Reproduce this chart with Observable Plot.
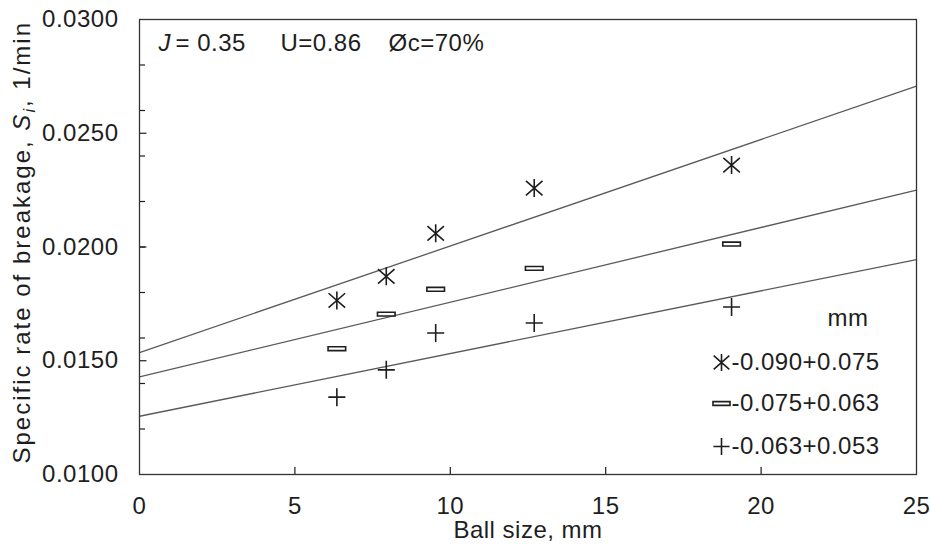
<!DOCTYPE html>
<html>
<head>
<meta charset="utf-8">
<script src="https://cdn.jsdelivr.net/npm/d3@7"></script>
<script src="https://cdn.jsdelivr.net/npm/@observablehq/plot@0.6"></script>
<style>
  html, body { margin: 0; padding: 0; background: #fff; }
  #chart { width: 931px; height: 551px; }
  #chart text { letter-spacing: 0.5px; }
</style>
</head>
<body>
<div id="chart"></div>
<script>
// ---- data ----
const ballSizes = [6.35, 7.94, 9.53, 12.7, 19.05];
const s090 = [0.01765, 0.01871, 0.0206, 0.02259, 0.0236];
const s075 = [0.01553, 0.01705, 0.01814, 0.01906, 0.02013];
const s063 = [0.0134, 0.0146, 0.01622, 0.01666, 0.01736];

const fitX = [0, 25];
const fit090 = [0.01536, 0.02707];
const fit075 = [0.01429, 0.0225];
const fit063 = [0.01256, 0.01945];

const seriesNames = ["-0.090+0.075", "-0.075+0.063", "-0.063+0.053"];
const xTickValues = [0, 5, 10, 15, 20, 25];
const xInnerTicks = [5, 10, 15, 20];
const yLabelValues = [0.010, 0.015, 0.020, 0.025, 0.030];
const yMinorTicks = [0.012, 0.014, 0.016, 0.018, 0.020, 0.022, 0.024, 0.026, 0.028];
const yMajorTicks = [0.015, 0.020, 0.025];

// ---- symbols ----
const asteriskSym = { draw(ctx, size) {
  const r = Math.sqrt(size / Math.PI);
  ctx.moveTo(0, -r); ctx.lineTo(0, r);
  const a = r * 0.92, b = r * 0.8;
  ctx.moveTo(-a, -b); ctx.lineTo(a, b);
  ctx.moveTo(-a, b); ctx.lineTo(a, -b);
}};
const dashSym = { draw(ctx, size) {
  const r = Math.sqrt(size / Math.PI);
  const h = 1.9;
  ctx.moveTo(-r, -h); ctx.lineTo(r, -h); ctx.lineTo(r, h); ctx.lineTo(-r, h); ctx.closePath();
}};
const plusSym = { draw(ctx, size) {
  const r = Math.sqrt(size / Math.PI);
  ctx.moveTo(-r * 0.95, 0); ctx.lineTo(r * 0.95, 0);
  ctx.moveTo(0, -r); ctx.lineTo(0, r);
}};

const pts = (ys) => ballSizes.map((x, i) => ({x, y: ys[i]}));
const fit = (ys) => fitX.map((x, i) => ({x, y: ys[i]}));

const ink = "#1e1e1e";
const lineCol = "#5a5a5a";
const FS = 24;
const W = 931, H = 551, mL = 139, mR = 15, mT = 19, mB = 77;
const fw = W - mL - mR, fh = H - mT - mB;

const symbols = [asteriskSym, dashSym, plusSym];
const symFill = ["none", "white", "none"];
const legendDy = [343, 384, 427];

const legendMarks = seriesNames.flatMap((name, i) => [
  Plot.dot([name], {frameAnchor: "top-left", dx: 582, dy: legendDy[i], symbol: symbols[i], r: 8.5,
    stroke: ink, strokeWidth: 1.6, fill: symFill[i]}),
  Plot.text([name], {frameAnchor: "top-left", dx: 592, dy: legendDy[i], text: d => d,
    textAnchor: "start", lineAnchor: "middle", fill: ink, fontSize: FS})
]);

const plot = Plot.plot({
  width: W, height: H,
  marginLeft: mL, marginRight: mR, marginTop: mT, marginBottom: mB,
  x: {domain: [0, 25]},
  y: {domain: [0.01, 0.03]},
  style: {fontFamily: "'Liberation Sans', Arial, sans-serif", fontSize: FS + "px", color: ink, background: "white", overflow: "visible"},
  marks: [
    Plot.line(fit(fit090), {x: "x", y: "y", stroke: lineCol, strokeWidth: 1.3}),
    Plot.line(fit(fit075), {x: "x", y: "y", stroke: lineCol, strokeWidth: 1.3}),
    Plot.line(fit(fit063), {x: "x", y: "y", stroke: lineCol, strokeWidth: 1.3}),
    Plot.dot(pts(s090), {x: "x", y: "y", symbol: asteriskSym, r: 9, stroke: ink, strokeWidth: 1.6, fill: "none"}),
    Plot.dot(pts(s075), {x: "x", y: "y", symbol: dashSym, r: 8.8, stroke: ink, strokeWidth: 1.6, fill: "white"}),
    Plot.dot(pts(s063), {x: "x", y: "y", symbol: plusSym, r: 9, stroke: ink, strokeWidth: 1.6, fill: "none"}),
    Plot.tickX(xInnerTicks, {x: d => d, insetTop: fh - 7, stroke: ink, strokeWidth: 1.2}),
    Plot.tickY(yMinorTicks, {y: d => d, insetRight: fw - 6, stroke: ink, strokeWidth: 1.2}),
    Plot.tickY(yMajorTicks, {y: d => d, insetRight: fw - 7.5, stroke: ink, strokeWidth: 1.2}),
    Plot.frame({stroke: "#333", strokeWidth: 1.3}),
    Plot.axisX({ticks: xTickValues, tickSize: 0, tickPadding: 22, tickFormat: d => String(d), label: null, fill: ink, fontSize: FS}),
    Plot.axisY({ticks: yLabelValues, tickSize: 0, tickPadding: 21, tickFormat: d3.format(".4f"), label: null, fill: ink, fontSize: FS}),
    Plot.text(["Ball size, mm"], {frameAnchor: "bottom", dy: 63, text: d => d, fill: ink, fontSize: FS}),
    // annotation
    Plot.text(["J"], {frameAnchor: "top-left", dx: 19, dy: 31, text: d => d, textAnchor: "start", lineAnchor: "bottom", fontStyle: "italic", fill: ink, fontSize: FS}),
    Plot.text(["= 0.35"], {frameAnchor: "top-left", dx: 36, dy: 31, text: d => d, textAnchor: "start", lineAnchor: "bottom", fill: ink, fontSize: FS}),
    Plot.text(["U=0.86"], {frameAnchor: "top-left", dx: 141, dy: 31, text: d => d, textAnchor: "start", lineAnchor: "bottom", fill: ink, fontSize: FS}),
    Plot.text(["Øc=70%"], {frameAnchor: "top-left", dx: 249, dy: 31, text: d => d, textAnchor: "start", lineAnchor: "bottom", fill: ink, fontSize: FS}),
    // legend
    Plot.text(["mm"], {frameAnchor: "top-left", dx: 688, dy: 306, text: d => d, textAnchor: "start", lineAnchor: "bottom", fill: ink, fontSize: FS}),
    ...legendMarks
  ]
});

// y-axis title with italic S and subscript i
const svg = d3.select(plot.tagName.toLowerCase() === "svg" ? plot : plot.querySelector("svg"));
const yt = svg.append("text")
  .attr("transform", "translate(30,243) rotate(-90)")
  .attr("text-anchor", "middle")
  .attr("fill", ink)
  .attr("font-size", FS)
  .attr("font-family", "'Liberation Sans', Arial, sans-serif")
  .attr("textLength", 441)
  .attr("lengthAdjust", "spacing");
yt.append("tspan").text("Specific rate of breakage, ");
yt.append("tspan").attr("font-style", "italic").text("S");
yt.append("tspan").attr("font-style", "italic").attr("font-size", 16).attr("dy", 5).text("i");
yt.append("tspan").attr("dy", -5).text(", 1/min");

document.getElementById("chart").appendChild(plot);
</script>
</body>
</html>
